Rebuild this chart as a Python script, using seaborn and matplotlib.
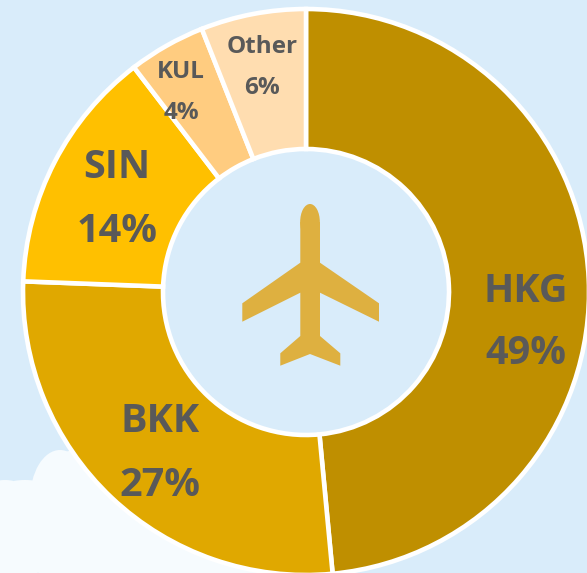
import matplotlib
matplotlib.use('Agg')
import matplotlib.pyplot as plt
import seaborn as sns
from matplotlib.patches import Ellipse, Polygon

airports = ['HKG', 'BKK', 'SIN', 'KUL', 'Other']
shares = [48.5, 27.1, 14.0, 4.4, 6.0]
share_labels = ['49%', '27%', '14%', '4%', '6%']
colors = ['#BF8F00', '#E0A800', '#FFC000', '#FFCC80', '#FFDDB0']

BG = '#D9ECFA'
TEXT = '#595959'
PLANE = '#DEB040'

sns.set_theme(style='white')
plt.rcParams['font.family'] = ['Open Sans', 'DejaVu Sans']

fig = plt.figure(figsize=(5.87, 5.73), dpi=100, facecolor=BG)
ax = fig.add_axes([0, 0, 1, 1])
ax.patch.set_alpha(0)

# cloud in the lower left corner, sits behind the ring
for x, y, w, h in [(25, 525, 110, 90), (75, 510, 70, 120), (5, 535, 90, 110),
                   (150, 560, 240, 70), (100, 540, 140, 110), (60, 500, 60, 100)]:
    ax.add_patch(Ellipse((x, y), w, h, color='#F6FBFE', lw=0, zorder=0))

# y axis is flipped to work in image pixels, so this runs clockwise from the top
ax.pie(shares, colors=sns.color_palette(colors), startangle=-90, counterclock=True,
       center=(306, 292), radius=283, frame=True,
       wedgeprops={'width': 140, 'edgecolor': 'white', 'linewidth': 3.3})

ax.set_xlim(0, 587)
ax.set_ylim(573, 0)
ax.set_aspect('equal')
ax.axis('off')

# name / percent label positions, big labels first
label_pos = [(526, 291, 354), (160, 421, 485), (117, 168, 232), (181, 72, 113), (262, 47, 88)]
label_size = [28.5, 28.5, 28.5, 17.5, 17.5]
for name, pct, (x, y1, y2), size in zip(airports, share_labels, label_pos, label_size):
    ax.text(x, y1, name, ha='center', va='center', fontsize=size, fontweight='bold', color=TEXT)
    ax.text(x, y2, pct, ha='center', va='center', fontsize=size, fontweight='bold', color=TEXT)

# plane icon
plane = [(300.3, 222), (300.3, 262.7), (242.3, 303.3), (242.3, 321.7), (300.3, 292.7),
         (300.3, 336), (280.3, 353.3), (280.3, 365.7), (310, 354), (340.3, 365.7),
         (340.3, 353.3), (320, 336), (320, 292.7), (379, 321.7), (379, 303.3),
         (320, 262.7), (320, 222)]
ax.add_patch(Polygon(plane, closed=True, color=PLANE, lw=0, zorder=5))
ax.add_patch(Ellipse((310, 222), 19.7, 36, color=PLANE, lw=0, zorder=5))

fig.savefig('out.png', dpi=100, facecolor=fig.get_facecolor())
